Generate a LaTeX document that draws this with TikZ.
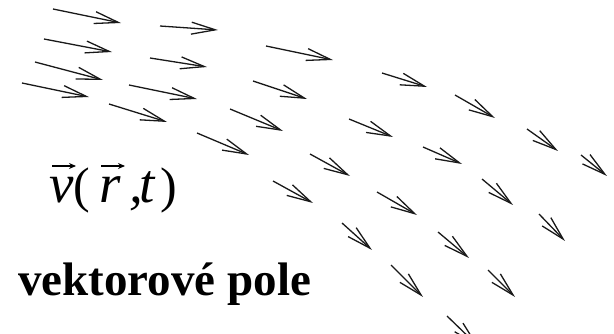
\documentclass[tikz,border=0pt]{standalone}
\usepackage{fontspec}
\setmainfont{Liberation Serif}
\usetikzlibrary{arrows.meta}
\tikzset{
  vecarrow/.style={draw=black!90, line width=1.3pt,
    -{Straight Barb[length=24pt,width=12pt,line width=1.3pt]}},
  accent/.style={draw=black, line width=1.4pt, -{Stealth[length=7pt,width=6pt]}},
  label/.style={inner sep=0pt, anchor=base west, font=\fontsize{47}{50}\selectfont},
  paren/.style={inner sep=0pt, anchor=base west, font=\fontsize{50}{52}\selectfont},
  mathglyph/.style={inner sep=0pt, anchor=base west, font=\fontsize{55}{58}\selectfont\itshape}
}
\begin{document}
\begin{tikzpicture}[x=1pt,y=-1pt]
\useasboundingbox (0,0) rectangle (614,334);
\foreach \ax/\ay/\bx/\by in {
  53/9/121/23,
  160/26/218/30,
  44/39/112/52,
  150/58/207/67,
  266/46/333/60,
  35/62/103/80,
  22/83/89/97,
  129/85/197/99,
  253/81/307/99,
  109/104/167/122,
  230/109/283/131,
  197/133/249/155,
  382/73/427/87,
  455/95/495/118,
  349/119/393/137,
  527/129/558/151,
  423/147/462/164,
  310/154/350/176,
  581/155/607/176,
  273/181/313/203,
  377/192/417/215,
  482/179/513/205,
  342/223/372/250,
  539/214/565/241,
  438/232/469/258,
  391/265/423/297,
  488/270/515/297,
  447/316/478/346}
{\draw[vecarrow] (\ax,\ay) -- (\bx,\by);}
% v(r,t)
\node[mathglyph] (gv) at (49,203) {v};
\node[paren] (glp) at (73,203) {(};
\node[mathglyph] (gr) at (99,203) {r};
\node[mathglyph] (gc) at (129,203) {,};
\node[mathglyph] (gt) at (139,203) {t};
\node[paren] (grp) at (160,203) {)};
\coordinate (va) at (52,166);
\coordinate (vb) at (76,166);
\coordinate (ra) at (101,166);
\coordinate (rb) at (125,166);
\draw[accent] (va) -- (vb);
\draw[accent] (ra) -- (rb);
\node[label] (title) at (18,296) {\bfseries vektorové pole};
\end{tikzpicture}
\end{document}
